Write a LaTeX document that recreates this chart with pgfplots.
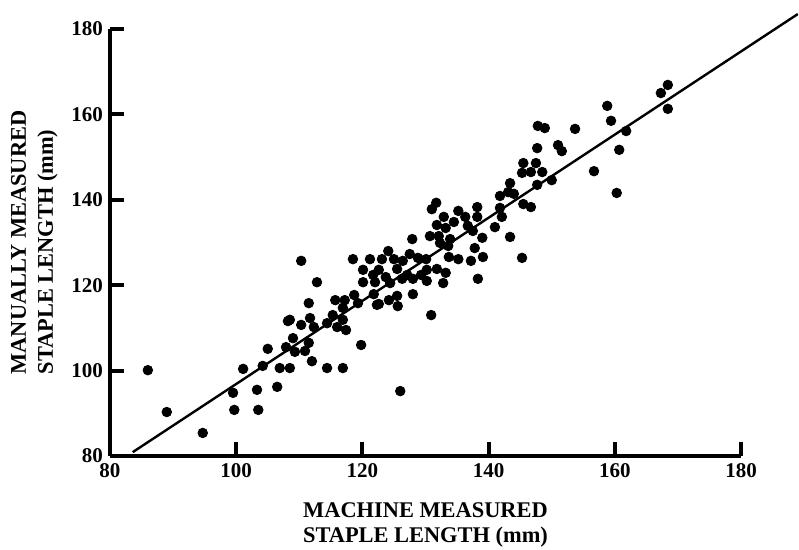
\documentclass[border=0pt]{standalone}
\usepackage{fontspec}
\setmainfont{Liberation Serif}
\usepackage{pgfplots}
\usepackage{pgfplotstable}
\pgfplotsset{compat=1.18}

% machine (x) vs manual (y) staple length, mm
\pgfplotstableread{
x y
86.0 100.1
89.0 90.3
94.7 85.4
99.7 90.8
103.5 90.8
99.5 94.8
103.3 95.5
106.5 96.2
101.1 100.4
104.2 101.1
106.9 100.6
108.5 100.6
105.0 105.1
107.9 105.5
108.2 111.6
110.3 125.7
112.8 120.7
111.5 115.8
108.5 111.9
110.3 110.7
111.7 112.3
112.3 110.2
109.0 107.6
109.3 104.4
111.5 106.5
110.9 104.6
112.0 102.2
114.4 111.1
115.7 116.5
117.2 116.5
115.3 113.0
116.9 111.9
116.0 110.2
117.4 109.5
118.7 117.7
119.3 115.8
116.9 114.7
119.8 106.0
118.5 126.1
121.2 126.1
120.1 123.6
121.7 122.4
120.1 120.7
122.0 120.7
121.8 117.9
122.3 115.4
114.4 100.6
116.9 100.6
126.0 95.2
131.7 139.3
131.0 137.8
138.2 138.3
135.2 137.4
132.9 136.0
134.5 134.8
136.3 136.0
138.2 136.0
131.8 134.1
133.2 133.4
136.7 133.9
137.5 132.7
130.7 131.5
132.1 131.5
127.9 130.8
133.9 130.8
132.3 129.9
133.6 129.2
139.0 131.1
137.8 128.7
139.1 126.6
124.1 128.0
127.5 127.3
123.1 126.1
125.0 126.1
126.4 125.7
128.8 126.4
130.1 126.1
133.7 126.6
135.2 126.1
137.2 125.7
122.6 123.6
125.5 123.8
123.7 121.9
127.1 122.4
129.3 122.4
130.2 123.6
131.8 123.8
133.2 122.9
124.4 120.5
126.3 121.5
128.0 121.5
130.2 121.0
132.8 120.5
138.3 121.5
122.6 115.6
124.2 116.5
125.5 117.5
125.6 115.1
128.0 117.9
130.9 113.0
147.8 157.3
148.9 156.8
153.7 156.6
147.7 152.1
151.0 152.8
151.6 151.4
145.5 148.6
147.5 148.6
145.3 146.3
146.7 146.5
148.5 146.5
143.4 143.9
147.7 143.5
150.0 144.6
143.1 141.8
144.0 141.4
141.8 140.9
145.5 139.0
146.7 138.3
141.8 138.1
142.1 136.0
141.0 133.6
143.4 131.3
145.3 126.4
168.4 166.9
167.3 165.0
168.4 161.3
158.8 162.0
159.4 158.5
161.8 156.1
160.7 151.7
156.7 146.7
160.3 141.6
}\staples

\begin{document}
\begin{tikzpicture}
\begin{axis}[
    scale only axis,
    width=315.5pt, height=213.5pt,
    xmin=80, xmax=180, ymin=80, ymax=180,
    axis x line*=bottom, axis y line*=left,
    axis line style={line width=2.4pt},
    xtick={80,100,...,180}, ytick={80,100,...,180},
    tick align=inside,
    major tick length=7pt,
    tick style={line width=2pt, black},
    ticklabel style={font=\fontsize{10.5}{12}\selectfont\bfseries},
    /pgf/number format/assume math mode=true,
    xlabel={MACHINE MEASURED\\STAPLE LENGTH (mm)},
    ylabel={MANUALLY MEASURED\\STAPLE LENGTH (mm)},
    label style={font=\fontsize{11.2}{12.5}\selectfont\bfseries},
    xlabel style={align=center, yshift=-6pt},
    ylabel style={align=left, yshift=0pt,
        font=\fontsize{11.2}{13.5}\selectfont\bfseries},
    clip=false,
    ]
    \addplot[only marks, mark=*, mark size=2.4pt, black] table {\staples};
    \addplot[black, line width=1.2pt] coordinates {(83.6,80.9) (189.0,183.5)};
    \coordinate (bl) at (rel axis cs:-0.1743,-0.2178);
    \coordinate (tr) at (rel axis cs:1.0919,1.0679);
\end{axis}
\pgfresetboundingbox
\path (bl) rectangle (tr);
\end{tikzpicture}
\end{document}
